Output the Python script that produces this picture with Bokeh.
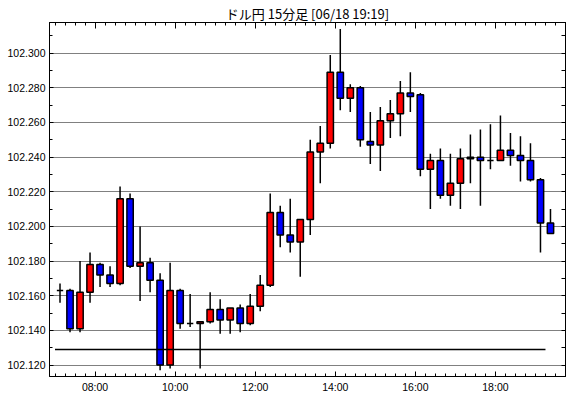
import pandas as pd
from bokeh.plotting import figure
from bokeh.models import (Range1d, LinearAxis, DatetimeAxis, FixedTicker,
                          DatetimeTickFormatter, NumeralTickFormatter)
from bokeh.embed import file_html
from bokeh.resources import INLINE

TITLE = "ドル円 15分足 [06/18 19:19]"

times = pd.date_range("2014-06-18 07:00", periods=50, freq="15min")

opens = [102.163, 102.163, 102.141, 102.162, 102.178, 102.172, 102.167, 102.216, 102.177, 102.179,
         102.169, 102.120, 102.163, 102.144, 102.144, 102.145, 102.152, 102.146, 102.153, 102.144,
         102.154, 102.166, 102.208, 102.195, 102.191, 102.204, 102.243, 102.248, 102.289, 102.274,
         102.280, 102.249, 102.247, 102.261, 102.265, 102.277, 102.276, 102.233, 102.238, 102.218,
         102.225, 102.239, 102.240, 102.238, 102.238, 102.244, 102.241, 102.238, 102.227, 102.202]
highs = [102.167, 102.164, 102.180, 102.185, 102.179, 102.177, 102.223, 102.219, 102.200, 102.182,
         102.173, 102.179, 102.164, 102.161, 102.145, 102.162, 102.158, 102.153, 102.155, 102.161,
         102.172, 102.219, 102.212, 102.216, 102.204, 102.250, 102.258, 102.299, 102.314, 102.282,
         102.281, 102.266, 102.269, 102.273, 102.284, 102.289, 102.277, 102.242, 102.245, 102.242,
         102.245, 102.253, 102.256, 102.259, 102.264, 102.254, 102.252, 102.248, 102.228, 102.210]
lows = [102.156, 102.139, 102.139, 102.156, 102.165, 102.165, 102.166, 102.176, 102.157, 102.162,
        102.117, 102.118, 102.141, 102.142, 102.118, 102.144, 102.138, 102.138, 102.139, 102.143,
        102.151, 102.165, 102.188, 102.185, 102.171, 102.195, 102.225, 102.245, 102.267, 102.266,
        102.246, 102.236, 102.232, 102.251, 102.252, 102.266, 102.229, 102.210, 102.216, 102.212,
        102.210, 102.225, 102.212, 102.233, 102.238, 102.235, 102.226, 102.226, 102.185, 102.196]
closes = [102.163, 102.141, 102.162, 102.178, 102.172, 102.167, 102.216, 102.177, 102.179, 102.169,
          102.120, 102.163, 102.144, 102.144, 102.145, 102.152, 102.146, 102.153, 102.144, 102.154,
          102.166, 102.208, 102.195, 102.191, 102.204, 102.243, 102.248, 102.289, 102.274, 102.280,
          102.250, 102.247, 102.261, 102.265, 102.277, 102.275, 102.233, 102.238, 102.218, 102.225,
          102.239, 102.240, 102.238, 102.238, 102.244, 102.241, 102.238, 102.227, 102.202, 102.196]

ref_level = 102.129

y_ticks = [102.120, 102.140, 102.160, 102.180, 102.200, 102.220, 102.240, 102.260, 102.280, 102.300]
y_minor = [102.110, 102.130, 102.150, 102.170, 102.190, 102.210, 102.230, 102.250, 102.270, 102.290, 102.310]
x_major_labels = ["08:00", "10:00", "12:00", "14:00", "16:00", "18:00"]

DAY = "2014-06-18 "
EPOCH = pd.Timestamp("1970-01-01")


def ms(t):
    return (pd.Timestamp(t) - EPOCH) // pd.Timedelta("1ms")


x_major = [ms(DAY + s) for s in x_major_labels]
x_minor = [ms(t) for t in pd.date_range(DAY + "06:45", DAY + "19:45", freq="15min")]

centers = times + pd.Timedelta(minutes=7.5)
tops = [max(o, c) for o, c in zip(opens, closes)]
bottoms = [min(o, c) for o, c in zip(opens, closes)]
fills = ["#ff0000" if c > o else ("#0000ff" if c < o else None) for o, c in zip(opens, closes)]

p = figure(width=570, height=398, x_axis_type="datetime",
           x_range=Range1d(pd.Timestamp(DAY + "06:51:45"), pd.Timestamp(DAY + "19:45:00")),
           y_range=Range1d(102.1134, 102.3177),
           output_backend="svg", toolbar_location=None,
           min_border_left=49, min_border_right=5, min_border_top=22, min_border_bottom=22,
           title=TITLE)
p.background_fill_color = "white"
p.border_fill_color = "white"
p.outline_line_color = "black"
p.outline_line_width = 1

p.title.align = "center"
p.title.text_font = "Noto Sans CJK JP"
p.title.text_font_size = "13px"
p.title.text_font_style = "normal"
p.title.text_color = "black"
p.title.standoff = 0
p.title.offset = 0

# grid
p.xgrid.visible = False
p.ygrid.ticker = FixedTicker(ticks=y_ticks)
p.ygrid.grid_line_color = "black"
p.ygrid.grid_line_dash = "1 1"
p.ygrid.grid_line_width = 1

# left axis
ya = p.yaxis[0]
ya.ticker = FixedTicker(ticks=y_ticks, minor_ticks=y_minor)
ya.formatter = NumeralTickFormatter(format="0.000")
ya.major_label_text_font = "Liberation Sans"
ya.major_label_text_font_size = "10.5px"
ya.major_label_text_color = "black"
ya.major_tick_in = 4
ya.major_tick_out = 0
ya.minor_tick_in = 3
ya.minor_tick_out = 0
ya.major_label_standoff = 4
ya.axis_line_color = "black"

# bottom axis
xa = p.xaxis[0]
xa.ticker = FixedTicker(ticks=x_major, minor_ticks=x_minor)
xa.formatter = DatetimeTickFormatter(hours="%H:%M", hourmin="%H:%M", minutes="%H:%M",
                                     minsec="%H:%M", days="%H:%M")
xa.major_label_text_font = "Liberation Sans"
xa.major_label_text_font_size = "10.5px"
xa.major_label_text_color = "black"
xa.major_tick_in = 5
xa.major_tick_out = 0
xa.minor_tick_in = 3
xa.minor_tick_out = 0
xa.major_label_standoff = 4
xa.axis_line_color = "black"

# right axis (ticks only)
ra = LinearAxis(ticker=FixedTicker(ticks=[], minor_ticks=sorted(y_ticks + y_minor)),
                major_label_standoff=0,
                major_tick_in=0, major_tick_out=0, minor_tick_in=4, minor_tick_out=0,
                axis_line_color="black")
p.add_layout(ra, "right")

# top axes (ticks only): 15-minute ticks and longer 2-hour ticks
ta = DatetimeAxis(ticker=FixedTicker(ticks=[], minor_ticks=x_minor),
                  major_label_standoff=0,
                  major_tick_in=0, major_tick_out=0, minor_tick_in=3, minor_tick_out=0,
                  axis_line_color="black")
p.add_layout(ta, "above")
ta2 = DatetimeAxis(ticker=FixedTicker(ticks=[], minor_ticks=x_major),
                   major_label_standoff=0,
                   major_tick_in=0, major_tick_out=0, minor_tick_in=6, minor_tick_out=0,
                   axis_line_color="black")
p.add_layout(ta2, "above")

# candles
p.segment(x0=centers, y0=lows, x1=centers, y1=highs, line_color="black", line_width=1.5)
p.vbar(x=centers, width=9.5 * 60 * 1000, top=tops, bottom=bottoms,
       fill_color=fills, line_color="black", line_width=1.5)

# reference level line
p.segment(x0=[times[0]], y0=[ref_level], x1=[times[-1]], y1=[ref_level],
          line_color="black", line_width=1.5)

open("out.html", "w").write(file_html(p, INLINE))
